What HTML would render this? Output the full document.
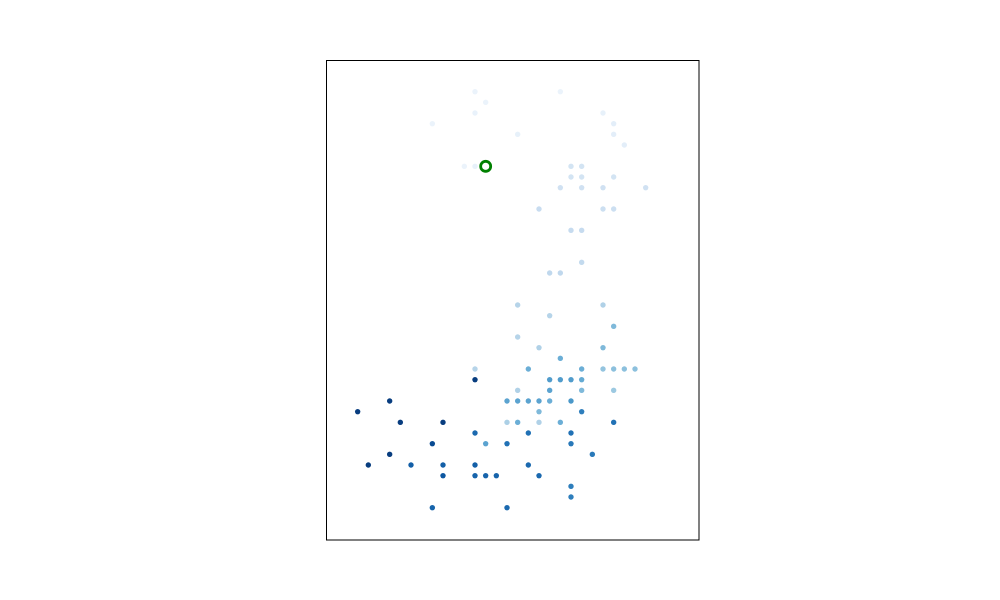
<!DOCTYPE html>
<html><head><meta charset="utf-8"><style>html,body{margin:0;padding:0;background:#fff;}svg{display:block;font-family:"Liberation Sans",sans-serif;}</style></head>
<body>
<svg id="chart" width="1000" height="600">
<rect x="326.5" y="60.5" width="372.5" height="479.5" fill="#fff" stroke="#000" stroke-width="1"/>
<g id="pts"></g>
</svg>
<script>
const xs = [14,22,15,14,26,10,27,18,27,28,13,14,23,24,23,24,27,22,24,26,30,20,26,27,23,24,24,21,22,
 18,26,21,27,18,20,26,22,14,19,24,26,27,28,29,14,21,22,23,24,18,21,24,27,6,17,18,19,20,21,23,3,20,24,
 7,11,17,18,20,22,27,14,19,23,10,15,17,23,6,25,4,8,11,14,19,11,14,15,16,20,23,23,10,17];
const ys = [3,3,4,5,5,6,6,7,7,8,10,10,10,10,11,11,11,12,12,12,12,14,14,14,16,16,19,20,20,
 23,23,24,25,26,27,27,28,29,29,29,29,29,29,29,30,30,30,30,30,31,31,31,31,32,32,32,32,32,32,32,33,33,33,
 34,34,34,34,34,34,34,35,35,35,36,36,36,36,37,37,38,38,38,38,38,39,39,39,39,39,40,41,42,42];
const shades = [0.06,0.06,0.06,0.07,0.08,0.06,0.1,0.08,0.1,0.1,0.06,0.08,0.18,0.18,0.18,0.18,0.18,0.2,0.2,0.2,0.2,0.24,0.22,0.22,0.25,0.25,0.26,0.27,0.27,
 0.3,0.32,0.3,0.45,0.3,0.32,0.45,0.5,0.3,0.5,0.5,0.4,0.42,0.42,0.42,0.95,0.58,0.58,0.58,0.52,0.32,0.55,0.45,0.38,0.95,0.55,0.55,0.55,0.55,0.5,0.6,0.95,0.45,0.7,
 0.95,0.95,0.33,0.5,0.32,0.5,0.75,0.78,0.75,0.75,0.9,0.55,0.75,0.72,0.95,0.72,0.95,0.82,0.82,0.82,0.78,0.85,0.8,0.8,0.8,0.78,0.7,0.7,0.8,0.78];
const highlightX = [15], highlightY = [10];

const X = v => 326 + (32*v - 1)/3;
const Y = v => 60 + (32*v - 1)/3;
const stops = ["#f7fbff","#deebf7","#c6dbef","#9ecae1","#6baed6","#4292c6","#2171b5","#08519c","#08306b"];
function hex(h){return [1,3,5].map(i=>parseInt(h.substr(i,2),16));}
function blues(t){t=Math.max(0,Math.min(1,t))*8;const i=Math.min(7,Math.floor(t)),f=t-i;
 const a=hex(stops[i]),b=hex(stops[i+1]);return "rgb("+a.map((v,k)=>Math.round(v+(b[k]-v)*f)).join(",")+")";}
const NS="http://www.w3.org/2000/svg", g=document.getElementById("pts");
for(let i=0;i<xs.length;i++){
 const c=document.createElementNS(NS,"circle");
 c.setAttribute("cx",X(xs[i]));c.setAttribute("cy",Y(ys[i]));c.setAttribute("r",2.7);
 c.setAttribute("fill",blues(shades[i]));
 
 
 g.appendChild(c);
}
for(let i=0;i<highlightX.length;i++){
 const h=document.createElementNS(NS,"circle");
 h.setAttribute("cx",X(highlightX[i]));h.setAttribute("cy",Y(highlightY[i]));h.setAttribute("r",5);
 h.setAttribute("fill","#fff");h.setAttribute("stroke","#008000");h.setAttribute("stroke-width",2.8);
 
 
 g.appendChild(h);
}
</script>
</body></html>
